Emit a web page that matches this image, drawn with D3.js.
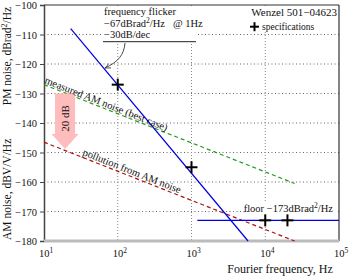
<!DOCTYPE html>
<html>
<head>
<meta charset="utf-8">
<script src="https://cdn.jsdelivr.net/npm/d3@7"></script>
<style>
  body { margin: 0; background: #fff; }
  text { font-family: "Liberation Serif", "DejaVu Serif", serif; fill: #111; }
</style>
</head>
<body>
<svg id="chart"></svg>
<script>
// Tick values
const xTicks = [1e1, 1e2, 1e3, 1e4, 1e5];
const xTickExp = ["1", "2", "3", "4", "5"];
const yTicks = [-100, -110, -120, -130, -140, -150, -160, -170, -180];

// Frequency flicker, -67 dBrad2/Hz @ 1Hz, -30 dB/dec
const flickerF = [23, 5850];
const flickerDb = [-108, -180];
// Floor -173 dBrad2/Hz
const floorF = [1200, 1e5];
const floorDb = [-173, -173];
// Measured AM noise (best case)
const amF = [10, 25000];
const amDb = [-127, -160.5];
// Pollution from AM noise
const pollF = [10, 25000];
const pollDb = [-146.5, -180];
// Specifications
const specF = [100, 1000, 1e4, 2e4];
const specDb = [-127, -155, -173, -173];
// 20 dB arrow
const arrowF = 19.3;
const arrowDb = [-130, -143.7, -148.8];

const W = 349, H = 277;
const margin = {top: 5, right: 10, bottom: 36, left: 44};
const width = W - margin.left - margin.right,
      height = H - margin.top - margin.bottom;

const svg = d3.select("#chart")
  .attr("width", W)
  .attr("height", H)
  .append("g")
  .attr("transform", `translate(${margin.left},${margin.top})`);

const x = d3.scaleLog().domain([10, 1e5]).range([0, width]);
const y = d3.scaleLinear().domain([-180, -100]).range([height, 0]);

// Grid
svg.append("g")
  .selectAll("line")
  .data(yTicks.slice(1, -1))
  .join("line")
  .attr("x1", 0).attr("x2", width)
  .attr("y1", d => y(d)).attr("y2", d => y(d))
  .attr("stroke", "#666")
  .attr("stroke-dasharray", "1,2.5");
svg.append("g")
  .selectAll("line")
  .data(xTicks.slice(1, -1))
  .join("line")
  .attr("x1", d => x(d)).attr("x2", d => x(d))
  .attr("y1", 0).attr("y2", height)
  .attr("stroke", "#888")
  .attr("stroke-dasharray", "1,2");

// Borders
svg.append("line").attr("x1", 0).attr("x2", width).attr("y1", 0).attr("y2", 0)
  .attr("stroke", "#333").attr("stroke-width", 1.2);
svg.append("line").attr("x1", width).attr("x2", width).attr("y1", 0).attr("y2", height)
  .attr("stroke", "#333").attr("stroke-width", 1.2);

// Y axis
const yAxis = svg.append("g")
  .call(d3.axisLeft(y).tickValues(yTicks).tickSize(4).tickFormat(d => "\u2212" + Math.abs(d)));
yAxis.select(".domain").attr("stroke", "#444").attr("stroke-width", 1.5);
yAxis.selectAll(".tick line").attr("stroke", "#444");
yAxis.selectAll("text").attr("x", -7).attr("dy", "0.35em")
  .style("font-size", "10.5px").style("font-family", "Liberation Serif");

// X axis (gray baseline)
svg.append("line").attr("x1", 0).attr("x2", width).attr("y1", height).attr("y2", height)
  .attr("stroke", "#bbb").attr("stroke-width", 3);
const xLab = svg.append("g")
  .selectAll("text")
  .data(xTicks)
  .join("text")
  .attr("x", d => x(d) + 2)
  .attr("y", height + 16)
  .attr("text-anchor", "middle")
  .style("font-size", "10.5px");
xLab.append("tspan").text("10");
xLab.append("tspan").attr("dy", -4).style("font-size", "7.5px").text((d, i) => xTickExp[i]);

// Lines
const line = d3.line().x(d => x(d[0])).y(d => y(d[1]));
svg.append("path")
  .attr("d", line(amF.map((f, i) => [f, amDb[i]])))
  .attr("fill", "none").attr("stroke", "#229922").attr("stroke-width", 1.2)
  .attr("stroke-dasharray", "4,3");
svg.append("path")
  .attr("d", line(pollF.map((f, i) => [f, pollDb[i]])))
  .attr("fill", "none").attr("stroke", "#aa1111").attr("stroke-width", 1.2)
  .attr("stroke-dasharray", "4,3");
svg.append("path")
  .attr("d", line(flickerF.map((f, i) => [f, flickerDb[i]])))
  .attr("fill", "none").attr("stroke", "#0000dd").attr("stroke-width", 1.2);
svg.append("path")
  .attr("d", line(floorF.map((f, i) => [f, floorDb[i]])))
  .attr("fill", "none").attr("stroke", "#0000dd").attr("stroke-width", 1.2);

// 20 dB arrow
const ax = x(arrowF);
svg.append("path")
  .attr("d", `M${ax - 10},${y(arrowDb[0])} L${ax + 10},${y(arrowDb[0])} L${ax + 10},${y(arrowDb[1])}
    L${ax + 13.5},${y(arrowDb[1])} L${ax},${y(arrowDb[2])} L${ax - 13.5},${y(arrowDb[1])}
    L${ax - 10},${y(arrowDb[1])} Z`)
  .attr("fill", "#ffbcbc");
svg.append("text")
  .attr("transform", `translate(${ax + 4},${y(-138.5)}) rotate(-90)`)
  .attr("text-anchor", "middle")
  .style("font-size", "11px")
  .text("20 dB");

// Rotated line labels
function slopeAngle(fs, ds) {
  return Math.atan2(y(ds[1]) - y(ds[0]), x(fs[1]) - x(fs[0])) * 180 / Math.PI;
}
function lineLabel(fs, ds, px, txt, off) {
  const t = (px - x(fs[0])) / (x(fs[1]) - x(fs[0]));
  const py = y(ds[0]) + t * (y(ds[1]) - y(ds[0]));
  svg.append("text")
    .attr("transform", `translate(${px},${py}) rotate(${slopeAngle(fs, ds)})`)
    .attr("text-anchor", "middle")
    .attr("dy", off)
    .style("font-size", "10.5px")
    .text(txt);
}
lineLabel(amF, amDb, 60.5, "measured AM noise (best case)", -1.5);
lineLabel(pollF, pollDb, 86, "pollution from AM noise", -2);

// Specification crosses
const cross = (g, cx, cy, r, sw) => {
  g.append("line").attr("x1", cx - r).attr("x2", cx + r).attr("y1", cy).attr("y2", cy)
    .attr("stroke", "#000").attr("stroke-width", sw);
  g.append("line").attr("x1", cx).attr("x2", cx).attr("y1", cy - r).attr("y2", cy + r)
    .attr("stroke", "#000").attr("stroke-width", sw);
};
const specs = svg.append("g");
specF.forEach((f, i) => cross(specs, x(f), y(specDb[i]), 6, 2));

// Floor label
svg.append("rect").attr("x", 204).attr("y", 198).attr("width", 88).attr("height", 11).attr("fill", "#fff");
const fl = svg.append("text").attr("x", 289).attr("y", 206.5).attr("text-anchor", "end").style("font-size", "10.5px");
fl.append("tspan").text("floor \u2212173dBrad");
fl.append("tspan").attr("dy", -4).style("font-size", "7.5px").text("2");
fl.append("tspan").attr("dy", 4).text("/Hz");

// Flicker annotation box
svg.append("rect").attr("x", 59).attr("y", 1).attr("width", 93).attr("height", 36).attr("fill", "#fff");
svg.append("line").attr("x1", 59).attr("x2", 152).attr("y1", 36.7).attr("y2", 36.7)
  .attr("stroke", "#222").attr("stroke-width", 1);
svg.append("text").attr("x", 60).attr("y", 10).style("font-size", "10.5px").text("frequency flicker");
const t2 = svg.append("text").attr("x", 60).attr("y", 21.7).style("font-size", "10.5px");
t2.append("tspan").text("\u221267dBrad");
t2.append("tspan").attr("dy", -4).style("font-size", "7.5px").text("2");
t2.append("tspan").attr("dy", 4).text("/Hz   @ 1Hz");
t2.attr("xml:space", "preserve");
svg.append("text").attr("x", 60).attr("y", 32.7).style("font-size", "10.5px").text("\u221230dB/dec");

// Curved arrow to the flicker line
svg.append("defs").append("marker")
  .attr("id", "head").attr("viewBox", "0 0 10 10").attr("refX", 9).attr("refY", 5)
  .attr("markerWidth", 7).attr("markerHeight", 7).attr("orient", "auto")
  .append("path").attr("d", "M0,1 L9,5 L0,9").attr("fill", "none").attr("stroke", "#333").attr("stroke-width", 1.2);
svg.append("path")
  .attr("d", "M81,38 C80,50 74,57 61,63")
  .attr("fill", "none").attr("stroke", "#333").attr("stroke-width", 0.9)
  .attr("marker-end", "url(#head)");

// Legend box
svg.append("rect").attr("x", 196).attr("y", 1).attr("width", width - 197).attr("height", 26).attr("fill", "#fff");
svg.append("text").attr("x", width - 2).attr("y", 11).attr("text-anchor", "end")
  .style("font-size", "11px").text("Wenzel 501\u221204623");
cross(svg, 210.5, 21.7, 4.5, 2);
svg.append("text").attr("x", 218).attr("y", 24.5).style("font-size", "9.5px").text("specifications");

// Axis labels
const pm = svg.append("text")
  .attr("transform", `translate(${-33.5},${y(-117.3)}) rotate(-90)`)
  .attr("text-anchor", "middle").style("font-size", "11.5px");
pm.append("tspan").text("PM noise, dBrad");
pm.append("tspan").attr("dy", -3.5).style("font-size", "8px").text("2");
pm.append("tspan").attr("dy", 3.5).text("/Hz");
svg.append("text")
  .attr("transform", `translate(${-33.5},${y(-162.5)}) rotate(-90)`)
  .attr("text-anchor", "middle").style("font-size", "11.5px")
  .text("AM noise, dBV/V/Hz");
svg.append("text")
  .attr("x", 236).attr("y", height + 32)
  .attr("text-anchor", "middle").style("font-size", "12px")
  .text("Fourier frequency, Hz");
</script>
</body>
</html>
